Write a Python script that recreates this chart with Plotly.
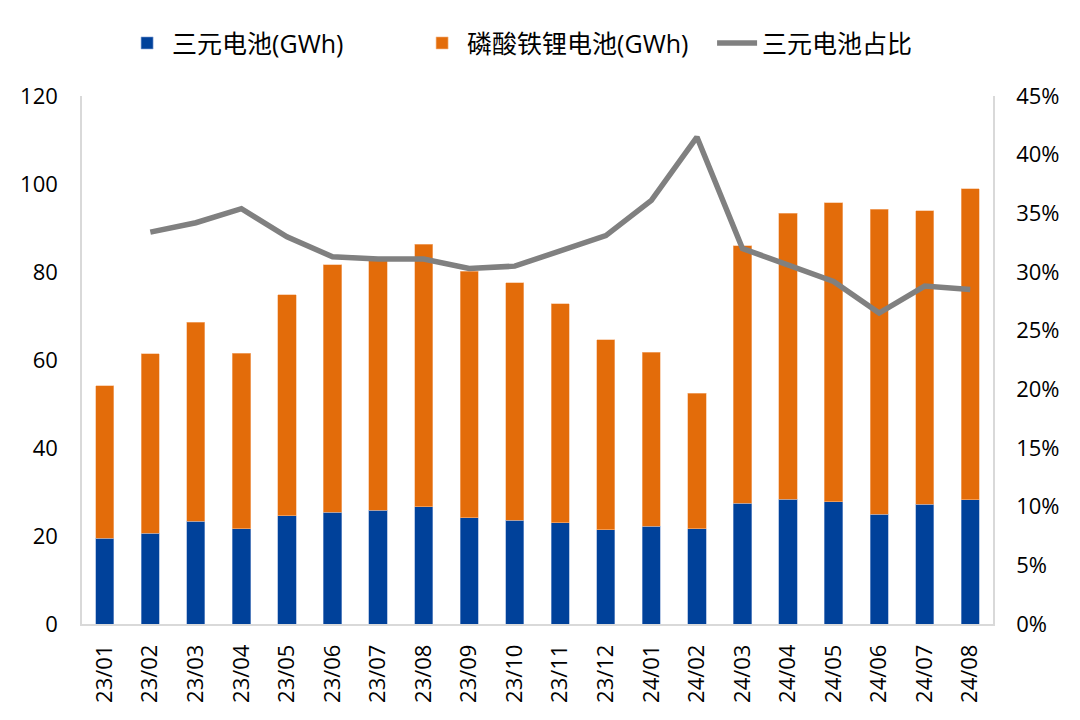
import plotly.graph_objects as go

months = ["23/01", "23/02", "23/03", "23/04", "23/05", "23/06", "23/07", "23/08", "23/09", "23/10",
          "23/11", "23/12", "24/01", "24/02", "24/03", "24/04", "24/05", "24/06", "24/07", "24/08"]
ternary = [19.5, 20.6, 23.4, 21.6, 24.6, 25.4, 25.9, 26.7, 24.1, 23.6,
           23.0, 21.4, 22.2, 21.6, 27.4, 28.4, 27.8, 24.9, 27.2, 28.2]
total = [54.1, 61.4, 68.6, 61.5, 74.8, 81.6, 83.0, 86.3, 80.2, 77.6,
         72.8, 64.6, 61.8, 52.4, 86.0, 93.3, 95.7, 94.3, 93.9, 98.9]
lfp = [round(t - s, 1) for t, s in zip(total, ternary)]
share = [None, 33.4, 34.2, 35.4, 33.0, 31.3, 31.1, 31.1, 30.3, 30.5,
         31.8, 33.1, 36.1, 41.5, 32.0, 30.6, 29.2, 26.5, 28.8, 28.5]
share_frac = [None if v is None else v / 100 for v in share]

font_family = "Open Sans, Noto Sans CJK SC, sans-serif"

fig = go.Figure()
fig.add_trace(go.Bar(x=months, y=ternary, name="三元电池(GWh)", marker=dict(color="#00419A", line=dict(width=0.6, color="#8aa6d6"))))
fig.add_trace(go.Bar(x=months, y=lfp, name="磷酸铁锂电池(GWh)", marker=dict(color="#E36C0A", line=dict(width=0.6, color="#f5b98a"))))
fig.add_trace(go.Scatter(x=months, y=share_frac, name="三元电池占比", mode="lines", yaxis="y2",
                         line=dict(color="#808080", width=5.5), connectgaps=False))

fig.update_layout(
    width=1080, height=720,
    barmode="stack", bargap=0.6,
    plot_bgcolor="white", paper_bgcolor="white",
    margin=dict(l=72, r=95, t=87, b=104),
    font=dict(family=font_family, size=22, color="#000000"),
    legend=dict(orientation="h", x=0.044, xanchor="left", y=1.10, yanchor="middle",
                font=dict(size=25), itemwidth=40, entrywidth=240, entrywidthmode="pixels",
                traceorder="normal"),
    xaxis=dict(type="category", tickangle=-90, showline=True, linecolor="#D9D9D9", linewidth=1.5,
               showgrid=False, ticks="", tickfont=dict(size=22), ticklabelstandoff=10),
    yaxis=dict(range=[0, 120], dtick=20, showline=True, linecolor="#D9D9D9", linewidth=1.5,
               showgrid=False, zeroline=False, ticks="", tickfont=dict(size=22), ticklabelstandoff=18),
    yaxis2=dict(range=[0, 0.45], dtick=0.05, tickformat=".0%", overlaying="y", side="right",
                showline=True, linecolor="#D9D9D9", linewidth=1.5, showgrid=False, zeroline=False,
                ticks="", tickfont=dict(size=22), ticklabelstandoff=17),
)

fig.write_html("out.html")
